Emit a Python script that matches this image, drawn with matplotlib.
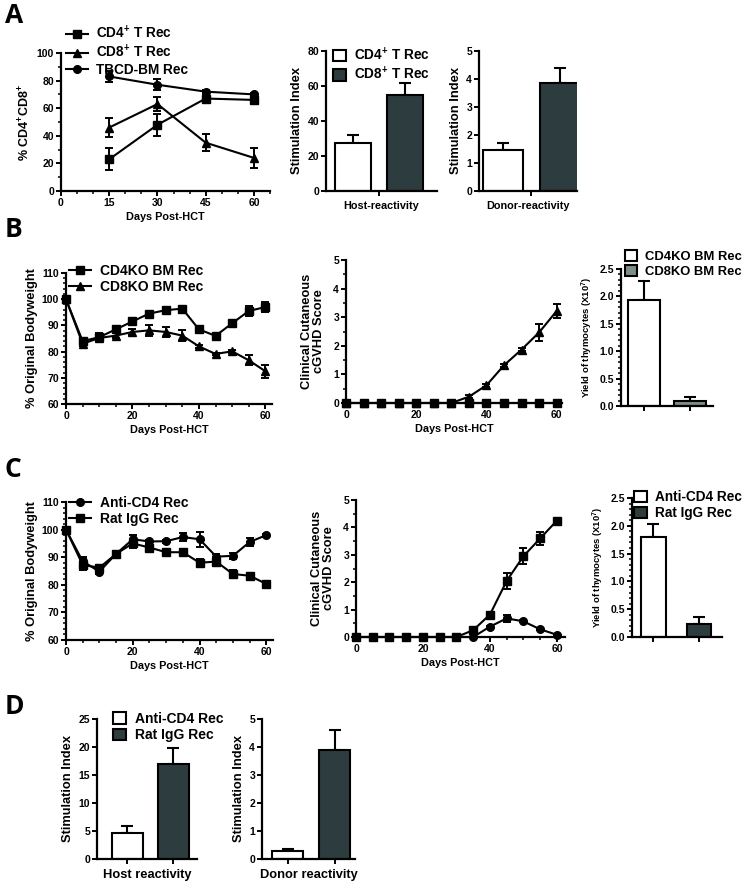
import matplotlib
matplotlib.use("Agg")
import matplotlib.pyplot as plt
from matplotlib.ticker import MultipleLocator, FormatStrFormatter
from matplotlib.patches import Patch
from matplotlib.lines import Line2D

plt.rcParams['font.family'] = ['Liberation Sans', 'DejaVu Sans']
plt.rcParams['font.weight'] = 'bold'
plt.rcParams['axes.labelweight'] = 'bold'
plt.rcParams['mathtext.fontset'] = 'custom'
plt.rcParams['mathtext.rm'] = 'Liberation Sans:bold'
plt.rcParams['mathtext.it'] = 'Liberation Sans:bold'
plt.rcParams['mathtext.bf'] = 'Liberation Sans:bold'

# ---------------- data ----------------
days_A = [15, 30, 45, 60]
A_cd4T = [23, 48, 67, 66]
A_cd4T_err = [8, 8, 3, 2]
A_cd8T = [46, 63, 35, 24]
A_cd8T_err = [7, 5, 6, 7]
A_tbcd = [83, 77, 72, 70]
A_tbcd_err = [4, 4, 1, 1]
A_line_labels = ['CD4$^{+}$ T Rec', 'CD8$^{+}$ T Rec', 'TBCD-BM Rec']

A_labels = ['CD4$^{+}$ T Rec', 'CD8$^{+}$ T Rec']
A_host = [27.5, 54.8]
A_host_err = [4.4, 6.7]
A_donor = [1.46, 3.85]
A_donor_err = [0.27, 0.55]

days = [0, 5, 10, 15, 20, 25, 30, 35, 40, 45, 50, 55, 60]
B_cd4ko_wt = [100, 84, 85.5, 88.5, 91.5, 94.5, 95.8, 96.4, 88.5, 86, 90.8, 95.5, 97]
B_cd4ko_wt_err = [0, 1, 1.5, 1, 1, 0.8, 0.8, 0.8, 0.5, 0.5, 0.5, 2, 1.8]
B_cd8ko_wt = [100, 83, 85.2, 86.1, 87.5, 88.1, 87.5, 86.1, 82, 79.1, 80.1, 76.7, 72.5]
B_cd8ko_wt_err = [0, 1, 1, 1, 1, 2, 2, 2, 0.5, 0.5, 0.5, 2, 2.5]
B_cd4ko_gvhd = [0, 0, 0, 0, 0, 0, 0, 0, 0, 0, 0, 0, 0]
B_cd8ko_gvhd = [0, 0, 0, 0, 0, 0, 0, 0.22, 0.62, 1.32, 1.87, 2.47, 3.22]
B_cd8ko_gvhd_err = [0, 0, 0, 0, 0, 0, 0, 0.05, 0.05, 0.05, 0.05, 0.3, 0.25]
B_labels = ['CD4KO BM Rec', 'CD8KO BM Rec']
B_yield = [1.93, 0.10]
B_yield_err = [0.36, 0.06]

C_anti_wt = [100, 88.5, 84.8, 91.2, 96.5, 95.7, 95.8, 97.3, 96.5, 90.2, 90.5, 95.5, 98]
C_anti_wt_err = [0, 1.5, 1, 0.5, 1.5, 0.5, 0.5, 1.5, 2.8, 1, 1, 1.5, 0.5]
C_rat_wt = [100, 87.2, 86.2, 91.2, 95, 93.5, 91.8, 91.8, 88, 88.4, 83.9, 83.3, 80.3]
C_rat_wt_err = [0, 2, 1, 1, 1.5, 1, 1, 1, 1.5, 1.5, 1.5, 1, 1]
C_rat_gvhd = [0, 0, 0, 0, 0, 0, 0, 0.25, 0.82, 2.05, 2.95, 3.6, 4.25]
C_rat_gvhd_err = [0, 0, 0, 0, 0, 0, 0, 0.1, 0.08, 0.3, 0.3, 0.25, 0.05]
C_anti_gvhd = [0, 0, 0, 0, 0, 0, 0, 0, 0.38, 0.68, 0.57, 0.28, 0.08]
C_anti_gvhd_err = [0, 0, 0, 0, 0, 0, 0, 0, 0.03, 0.12, 0.04, 0.03, 0.03]
C_labels = ['Anti-CD4 Rec', 'Rat IgG Rec']
C_yield = [1.80, 0.24]
C_yield_err = [0.24, 0.12]

D_host = [4.6, 17.0]
D_host_err = [1.3, 2.8]
D_donor = [0.27, 3.9]
D_donor_err = [0.07, 0.72]

DARK = '#2d3c3e'
GRAY = '#7c8f8b'
MS = 5.5
TICK_FS = 7.5

W, H = 750, 884
fig = plt.figure(figsize=(W / 100, H / 100), dpi=100)


def add_ax(l, t, r, b):
    return fig.add_axes([l / W, 1 - b / H, (r - l) / W, (b - t) / H])


def style(ax, fs=TICK_FS):
    for s in ['top', 'right']:
        ax.spines[s].set_visible(False)
    for s in ['left', 'bottom']:
        ax.spines[s].set_linewidth(1.6)
    ax.tick_params(which='major', width=1.4, length=3.5, labelsize=fs, pad=1.5)
    ax.tick_params(which='minor', width=1.1, length=2)


def line_errbar(ax, x, y, e, marker):
    ax.errorbar(x, y, yerr=e, fmt='-', marker=marker, color='black', ms=MS,
                lw=1.5, elinewidth=1.4, capsize=3, capthick=1.4, clip_on=False, zorder=3)


def line_handles(markers):
    return [Line2D([], [], color='black', marker=m, ms=MS, lw=1.5) for m in markers]


def patch_handles(colors):
    return [Patch(facecolor=c, edgecolor='black', lw=1.5) for c in colors]


def bar_panel(ax, vals, errs, colors, width, yupper):
    xs = list(range(len(vals)))
    ax.bar(xs, vals, width=width, color=colors, edgecolor='black', linewidth=1.5, zorder=2)
    ax.errorbar(xs, vals, yerr=[[0] * len(vals), errs], fmt='none', ecolor='black',
                elinewidth=1.5, capsize=4, capthick=1.5, zorder=1)
    ax.set_ylim(0, yupper)


def legend_at(ax, handles, labels, x, y, fs=10, patch=False):
    kw = dict(handlelength=0.95, handleheight=0.9, handletextpad=0.6) if patch else \
        dict(handlelength=1.6, handletextpad=0.6)
    ax.legend(handles, labels, loc='upper left', bbox_to_anchor=(x / W, 1 - y / H),
              bbox_transform=fig.transFigure, frameon=False, fontsize=fs,
              labelspacing=0.15, borderpad=0, borderaxespad=0, **kw)


# -------- Panel A: line --------
ax = add_ax(61, 53, 270, 191)
style(ax)
line_errbar(ax, days_A, A_cd4T, A_cd4T_err, 's')
line_errbar(ax, days_A, A_cd8T, A_cd8T_err, '^')
line_errbar(ax, days_A, A_tbcd, A_tbcd_err, 'o')
ax.set_xlim(0, 65)
ax.set_ylim(0, 100)
ax.xaxis.set_major_locator(MultipleLocator(15))
ax.xaxis.set_minor_locator(MultipleLocator(5))
ax.yaxis.set_major_locator(MultipleLocator(20))
ax.yaxis.set_minor_locator(MultipleLocator(10))
ax.set_xlabel('Days Post-HCT', fontsize=7.8, labelpad=3)
ax.set_ylabel('% CD4$^{+}$CD8$^{+}$', fontsize=9, labelpad=3)
legend_at(ax, line_handles(['s', '^', 'o']), A_line_labels, 66, 24, fs=9.8)

# -------- Panel A: bars --------
ax = add_ax(326, 51, 437, 191)
style(ax)
bar_panel(ax, A_host, A_host_err, ['white', DARK], 0.7, 80)
ax.set_xlim(-0.525, 1.63)
ax.yaxis.set_major_locator(MultipleLocator(20))
ax.set_xticks([0.5])
ax.set_xticklabels([''])
ax.set_xlabel('Host-reactivity', fontsize=7.8, labelpad=2)
ax.set_ylabel('Stimulation Index', fontsize=9.3, labelpad=3)
legend_at(ax, patch_handles(['white', DARK]), A_labels, 333, 46, fs=9.8, patch=True)

ax = add_ax(479, 51, 577, 191)
style(ax)
bar_panel(ax, A_donor, A_donor_err, ['white', DARK], 0.7, 5)
ax.set_xlim(-0.42, 1.3)
ax.yaxis.set_major_locator(MultipleLocator(1))
ax.set_xticks([0.5])
ax.set_xticklabels([''])
ax.set_xlabel('Donor-reactivity', fontsize=7.8, labelpad=2)
ax.set_ylabel('Stimulation Index', fontsize=9.3, labelpad=3)

# -------- Panel B: weight --------
ax = add_ax(66, 273, 272, 404)
style(ax)
line_errbar(ax, days, B_cd4ko_wt, B_cd4ko_wt_err, 's')
line_errbar(ax, days, B_cd8ko_wt, B_cd8ko_wt_err, '^')
ax.set_xlim(0, 62)
ax.set_ylim(60, 110)
ax.xaxis.set_major_locator(MultipleLocator(20))
ax.xaxis.set_minor_locator(MultipleLocator(5))
ax.yaxis.set_major_locator(MultipleLocator(10))
ax.yaxis.set_minor_locator(MultipleLocator(2))
ax.set_xlabel('Days Post-HCT', fontsize=7.8, labelpad=3)
ax.set_ylabel('% Original Bodyweight', fontsize=9.3, labelpad=3)
legend_at(ax, line_handles(['s', '^']), B_labels, 69, 264, fs=10)

# -------- Panel B: cGVHD --------
ax = add_ax(346, 260, 562, 403)
style(ax)
line_errbar(ax, days, B_cd8ko_gvhd, B_cd8ko_gvhd_err, '^')
line_errbar(ax, days, B_cd4ko_gvhd, [0] * len(days), 's')
ax.set_xlim(0, 61.5)
ax.set_ylim(0, 5)
ax.xaxis.set_major_locator(MultipleLocator(20))
ax.xaxis.set_minor_locator(MultipleLocator(5))
ax.yaxis.set_major_locator(MultipleLocator(1))
ax.yaxis.set_minor_locator(MultipleLocator(0.5))
ax.set_xlabel('Days Post-HCT', fontsize=7.8, labelpad=3)
ax.set_ylabel('Clinical Cutaneous\ncGVHD Score', fontsize=9.3, labelpad=6, linespacing=1.0)

# -------- Panel B: yield --------
ax = add_ax(621, 269, 713, 406)
style(ax)
bar_panel(ax, B_yield, B_yield_err, ['white', GRAY], 0.7, 2.5)
ax.set_xlim(-0.5, 1.51)
ax.yaxis.set_major_locator(MultipleLocator(0.5))
ax.yaxis.set_minor_locator(MultipleLocator(0.1))
ax.yaxis.set_major_formatter(FormatStrFormatter('%.1f'))
ax.set_xticks([0, 1])
ax.set_xticklabels(['', ''])
ax.set_ylabel('Yield of thymocytes (X10$^{7}$)', fontsize=6.8, labelpad=3)
legend_at(ax, patch_handles(['white', GRAY]), B_labels, 625, 250, fs=9.4, patch=True)

# -------- Panel C: weight --------
ax = add_ax(66, 502, 273, 640)
style(ax)
line_errbar(ax, days, C_anti_wt, C_anti_wt_err, 'o')
line_errbar(ax, days, C_rat_wt, C_rat_wt_err, 's')
ax.set_xlim(0, 62)
ax.set_ylim(60, 110)
ax.xaxis.set_major_locator(MultipleLocator(20))
ax.xaxis.set_minor_locator(MultipleLocator(5))
ax.yaxis.set_major_locator(MultipleLocator(10))
ax.yaxis.set_minor_locator(MultipleLocator(2))
ax.set_xlabel('Days Post-HCT', fontsize=7.8, labelpad=3)
ax.set_ylabel('% Original Bodyweight', fontsize=9.3, labelpad=3)
legend_at(ax, line_handles(['o', 's']), C_labels, 69, 496, fs=10)

# -------- Panel C: cGVHD --------
ax = add_ax(356, 500, 565, 637)
style(ax)
line_errbar(ax, days, C_anti_gvhd, C_anti_gvhd_err, 'o')
line_errbar(ax, days, C_rat_gvhd, C_rat_gvhd_err, 's')
ax.set_xlim(0, 62.4)
ax.set_ylim(0, 5)
ax.xaxis.set_major_locator(MultipleLocator(20))
ax.xaxis.set_minor_locator(MultipleLocator(5))
ax.yaxis.set_major_locator(MultipleLocator(1))
ax.yaxis.set_minor_locator(MultipleLocator(0.5))
ax.set_xlabel('Days Post-HCT', fontsize=7.8, labelpad=3)
ax.set_ylabel('Clinical Cutaneous\ncGVHD Score', fontsize=9.3, labelpad=6, linespacing=1.0)

# -------- Panel C: yield --------
ax = add_ax(632, 498, 722, 637)
style(ax)
bar_panel(ax, C_yield, C_yield_err, ['white', DARK], 0.53, 2.5)
ax.set_xlim(-0.47, 1.5)
ax.yaxis.set_major_locator(MultipleLocator(0.5))
ax.yaxis.set_minor_locator(MultipleLocator(0.1))
ax.yaxis.set_major_formatter(FormatStrFormatter('%.1f'))
ax.set_xticks([0, 1])
ax.set_xticklabels(['', ''])
ax.set_ylabel('Yield of thymocytes (X10$^{7}$)', fontsize=6.8, labelpad=3)
legend_at(ax, patch_handles(['white', DARK]), C_labels, 634, 490, fs=9.8, patch=True)

# -------- Panel D --------
ax = add_ax(97, 719, 197, 859)
style(ax)
bar_panel(ax, D_host, D_host_err, ['white', DARK], 0.67, 25)
ax.set_xlim(-0.66, 1.51)
ax.yaxis.set_major_locator(MultipleLocator(5))
ax.set_xticks([0, 1])
ax.set_xticklabels(['', ''])
ax.set_xlabel('Host reactivity', fontsize=9.3, labelpad=2)
ax.set_ylabel('Stimulation Index', fontsize=9.3, labelpad=3)
legend_at(ax, patch_handles(['white', DARK]), C_labels, 113, 712, fs=10, patch=True)

ax = add_ax(262, 719, 355, 859)
style(ax)
bar_panel(ax, D_donor, D_donor_err, ['white', DARK], 0.66, 5)
ax.set_xlim(-0.55, 1.43)
ax.yaxis.set_major_locator(MultipleLocator(1))
ax.set_xticks([0, 1])
ax.set_xticklabels(['', ''])
ax.set_xlabel('Donor reactivity', fontsize=9.3, labelpad=2)
ax.set_ylabel('Stimulation Index', fontsize=9.3, labelpad=3)

# -------- Panel letters --------
for letter, (x, y) in {'A': (5, 2), 'B': (5, 216), 'C': (5, 456), 'D': (5, 693)}.items():
    fig.text(x / W, 1 - y / H, letter, fontsize=19, fontweight='bold', family='Open Sans',
             va='top', ha='left')

fig.savefig('out.png', dpi=100)
